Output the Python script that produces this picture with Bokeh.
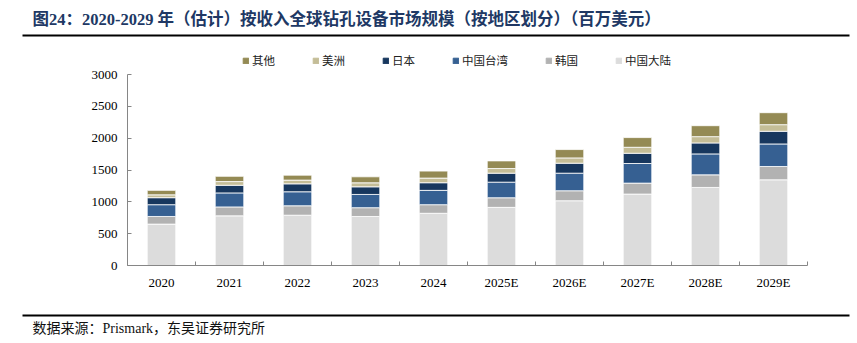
from bokeh.plotting import figure
from bokeh.layouts import column
from bokeh.models import (ColumnDataSource, Range1d, FixedTicker, Legend, LegendItem)
from bokeh.core.properties import value
from bokeh.embed import file_html
from bokeh.resources import INLINE

years = ["2020", "2021", "2022", "2023", "2024", "2025E", "2026E", "2027E", "2028E", "2029E"]
mainland = [650, 780, 790, 770, 820, 913, 1017, 1122, 1226, 1346]
korea = [120, 140, 148, 138, 135, 151, 157, 172, 198, 209]
taiwan = [185, 220, 220, 208, 225, 245, 276, 308, 329, 354]
japan = [110, 120, 125, 120, 120, 141, 157, 161, 172, 199]
americas = [45, 58, 58, 63, 73, 73, 83, 94, 99, 104]
others = [70, 83, 78, 94, 110, 120, 131, 152, 172, 188]

series_keys = ["mainland", "korea", "taiwan", "japan", "americas", "others"]
series_names = ["中国大陆", "韩国", "中国台湾", "日本", "美洲", "其他"]
series_colors = ["#DCDCDC", "#B2B2B2", "#366092", "#17375E", "#C4BD97", "#948A54"]
y_ticks = [0, 500, 1000, 1500, 2000, 2500, 3000]

title_text = "图24：2020-2029 年（估计）按收入全球钻孔设备市场规模（按地区划分）（百万美元）"
source_text = "数据来源：Prismark，东吴证券研究所"

W = 857
TOP_H, MAIN_H, BOT_H = 68, 240, 35
serif = "'Liberation Serif', 'Noto Sans CJK SC'"
axis_color = "#868686"


def blank(h):
    f = figure(width=W, height=h, output_backend="svg", toolbar_location=None,
               x_range=Range1d(0, W), y_range=Range1d(0, h),
               x_axis_type=None, y_axis_type=None, min_border=0)
    f.outline_line_color = None
    f.grid.grid_line_color = None
    f.frame_align = False
    return f


# header: title, rule and legend
top = blank(TOP_H)
top.text(x=[32], y=[TOP_H - 19], text=[title_text], text_font=value(serif),
         text_font_style="bold", text_font_size="16.5px", text_color="#203864",
         text_baseline="middle")
top.segment(x0=[22], y0=[TOP_H - 35], x1=[849], y1=[TOP_H - 35],
            line_color="#000000", line_width=2)
swatches = [top.vbar(x=[-1000], top=[0], width=1, color=c) for c in series_colors]
items = [LegendItem(label=series_names[i], renderers=[swatches[i]]) for i in range(5, -1, -1)]
legend = Legend(items=items, orientation="horizontal", location=(242, 0),
                glyph_width=7, glyph_height=7, label_standoff=3, spacing=37,
                padding=0, margin=0, border_line_color=None, background_fill_alpha=0,
                label_text_font="Noto Sans CJK SC", label_text_font_size="11.5px",
                label_text_color="#222222", label_height=12)
top.add_layout(legend, "center")

# main chart
xpos = [i + 0.5 for i in range(len(years))]
src = ColumnDataSource(dict(x=xpos, mainland=mainland, korea=korea, taiwan=taiwan,
                            japan=japan, americas=americas, others=others))

p = figure(width=W, height=MAIN_H, output_backend="svg", toolbar_location=None,
           x_range=Range1d(0, len(years)), y_range=Range1d(y_ticks[0], y_ticks[-1]),
           min_border_left=127, min_border_right=50, min_border_top=6, min_border_bottom=43)
p.outline_line_color = None
p.grid.grid_line_color = None
p.frame_align = False

p.vbar_stack(series_keys, x="x", width=0.42, source=src,
             color=series_colors, line_color="white", line_width=0.8)

xa = p.xaxis[0]
xa.ticker = FixedTicker(ticks=xpos, minor_ticks=list(range(len(years) + 1)))
xa.major_label_overrides = {x: y for x, y in zip(xpos, years)}
xa.major_tick_line_color = None
xa.major_tick_in = 0
xa.major_tick_out = 0
xa.minor_tick_line_color = axis_color
xa.minor_tick_in = 4
xa.minor_tick_out = 0
xa.axis_line_color = axis_color
xa.major_label_text_font = "Liberation Serif"
xa.major_label_text_font_size = "13px"
xa.major_label_text_color = "#000000"
xa.major_label_standoff = 9

ya = p.yaxis[0]
ya.ticker = FixedTicker(ticks=y_ticks)
ya.major_tick_in = 4
ya.major_tick_out = 0
ya.minor_tick_line_color = None
ya.major_tick_line_color = axis_color
ya.axis_line_color = axis_color
ya.major_label_text_font = "Liberation Serif"
ya.major_label_text_font_size = "13px"
ya.major_label_text_color = "#000000"
ya.major_label_standoff = 10

# footer: rule and source
bot = blank(BOT_H)
bot.segment(x0=[22], y0=[BOT_H - 7], x1=[849], y1=[BOT_H - 7],
            line_color="#000000", line_width=2)
bot.text(x=[32], y=[BOT_H - 20], text=[source_text], text_font=value(serif),
         text_font_size="14px", text_color="#111111", text_baseline="middle")

layout = column(top, p, bot, spacing=0)
open("out.html", "w").write(file_html(layout, INLINE))
